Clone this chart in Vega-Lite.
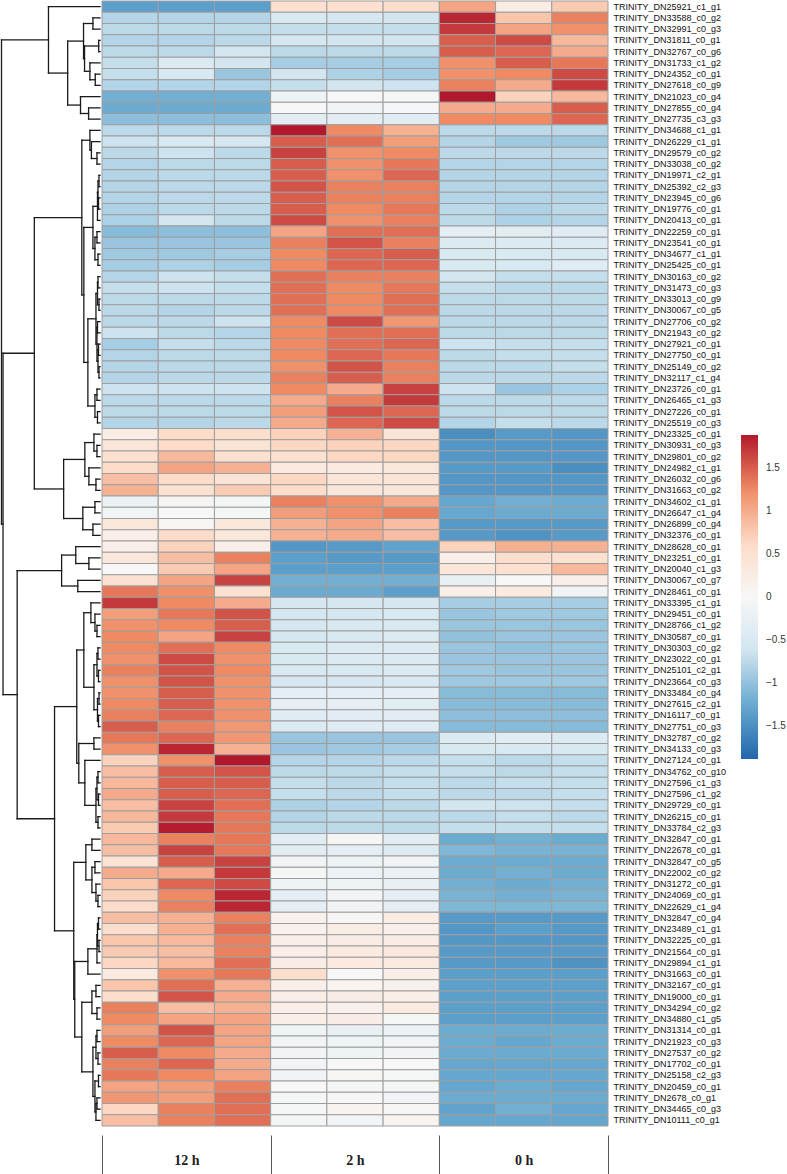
{
"$schema":"https://vega.github.io/schema/vega-lite/v6.json",
"padding":0,"background":"white","spacing":0,
"config":{"view":{"stroke":null}},
"datasets":{
"genes":[{"i":1,"g":"TRINITY_DN25921_c1_g1"},{"i":2,"g":"TRINITY_DN33588_c0_g2"},{"i":3,"g":"TRINITY_DN32991_c0_g3"},{"i":4,"g":"TRINITY_DN31811_c0_g1"},{"i":5,"g":"TRINITY_DN32767_c0_g6"},{"i":6,"g":"TRINITY_DN31733_c1_g2"},{"i":7,"g":"TRINITY_DN24352_c0_g1"},{"i":8,"g":"TRINITY_DN27618_c0_g9"},{"i":9,"g":"TRINITY_DN21023_c0_g4"},{"i":10,"g":"TRINITY_DN27855_c0_g4"},{"i":11,"g":"TRINITY_DN27735_c3_g3"},{"i":12,"g":"TRINITY_DN34688_c1_g1"},{"i":13,"g":"TRINITY_DN26229_c1_g1"},{"i":14,"g":"TRINITY_DN29579_c0_g2"},{"i":15,"g":"TRINITY_DN33038_c0_g2"},{"i":16,"g":"TRINITY_DN19971_c2_g1"},{"i":17,"g":"TRINITY_DN25392_c2_g3"},{"i":18,"g":"TRINITY_DN23945_c0_g6"},{"i":19,"g":"TRINITY_DN19776_c0_g1"},{"i":20,"g":"TRINITY_DN20413_c0_g1"},{"i":21,"g":"TRINITY_DN22259_c0_g1"},{"i":22,"g":"TRINITY_DN23541_c0_g1"},{"i":23,"g":"TRINITY_DN34677_c1_g1"},{"i":24,"g":"TRINITY_DN25425_c0_g1"},{"i":25,"g":"TRINITY_DN30163_c0_g2"},{"i":26,"g":"TRINITY_DN31473_c0_g3"},{"i":27,"g":"TRINITY_DN33013_c0_g9"},{"i":28,"g":"TRINITY_DN30067_c0_g5"},{"i":29,"g":"TRINITY_DN27706_c0_g2"},{"i":30,"g":"TRINITY_DN21943_c0_g2"},{"i":31,"g":"TRINITY_DN27921_c0_g1"},{"i":32,"g":"TRINITY_DN27750_c0_g1"},{"i":33,"g":"TRINITY_DN25149_c0_g2"},{"i":34,"g":"TRINITY_DN32117_c1_g4"},{"i":35,"g":"TRINITY_DN23726_c0_g1"},{"i":36,"g":"TRINITY_DN26465_c1_g3"},{"i":37,"g":"TRINITY_DN27226_c0_g1"},{"i":38,"g":"TRINITY_DN25519_c0_g3"},{"i":39,"g":"TRINITY_DN23325_c0_g1"},{"i":40,"g":"TRINITY_DN30931_c0_g3"},{"i":41,"g":"TRINITY_DN29801_c0_g2"},{"i":42,"g":"TRINITY_DN24982_c1_g1"},{"i":43,"g":"TRINITY_DN26032_c0_g6"},{"i":44,"g":"TRINITY_DN31663_c0_g2"},{"i":45,"g":"TRINITY_DN34602_c1_g1"},{"i":46,"g":"TRINITY_DN26647_c1_g4"},{"i":47,"g":"TRINITY_DN26899_c0_g4"},{"i":48,"g":"TRINITY_DN32376_c0_g1"},{"i":49,"g":"TRINITY_DN28628_c0_g1"},{"i":50,"g":"TRINITY_DN23251_c0_g1"},{"i":51,"g":"TRINITY_DN20040_c1_g3"},{"i":52,"g":"TRINITY_DN30067_c0_g7"},{"i":53,"g":"TRINITY_DN28461_c0_g1"},{"i":54,"g":"TRINITY_DN33395_c1_g1"},{"i":55,"g":"TRINITY_DN29451_c0_g1"},{"i":56,"g":"TRINITY_DN28766_c1_g2"},{"i":57,"g":"TRINITY_DN30587_c0_g1"},{"i":58,"g":"TRINITY_DN30303_c0_g2"},{"i":59,"g":"TRINITY_DN23022_c0_g1"},{"i":60,"g":"TRINITY_DN25101_c2_g1"},{"i":61,"g":"TRINITY_DN23664_c0_g3"},{"i":62,"g":"TRINITY_DN33484_c0_g4"},{"i":63,"g":"TRINITY_DN27615_c2_g1"},{"i":64,"g":"TRINITY_DN16117_c0_g1"},{"i":65,"g":"TRINITY_DN27751_c0_g3"},{"i":66,"g":"TRINITY_DN32787_c0_g2"},{"i":67,"g":"TRINITY_DN34133_c0_g3"},{"i":68,"g":"TRINITY_DN27124_c0_g1"},{"i":69,"g":"TRINITY_DN34762_c0_g10"},{"i":70,"g":"TRINITY_DN27596_c1_g3"},{"i":71,"g":"TRINITY_DN27596_c1_g2"},{"i":72,"g":"TRINITY_DN29729_c0_g1"},{"i":73,"g":"TRINITY_DN26215_c0_g1"},{"i":74,"g":"TRINITY_DN33784_c2_g3"},{"i":75,"g":"TRINITY_DN32847_c0_g1"},{"i":76,"g":"TRINITY_DN22678_c0_g1"},{"i":77,"g":"TRINITY_DN32847_c0_g5"},{"i":78,"g":"TRINITY_DN22002_c0_g2"},{"i":79,"g":"TRINITY_DN31272_c0_g1"},{"i":80,"g":"TRINITY_DN24069_c0_g1"},{"i":81,"g":"TRINITY_DN22629_c1_g4"},{"i":82,"g":"TRINITY_DN32847_c0_g4"},{"i":83,"g":"TRINITY_DN23489_c1_g1"},{"i":84,"g":"TRINITY_DN32225_c0_g1"},{"i":85,"g":"TRINITY_DN21564_c0_g1"},{"i":86,"g":"TRINITY_DN29894_c1_g1"},{"i":87,"g":"TRINITY_DN31663_c0_g1"},{"i":88,"g":"TRINITY_DN32167_c0_g1"},{"i":89,"g":"TRINITY_DN19000_c0_g1"},{"i":90,"g":"TRINITY_DN34294_c0_g2"},{"i":91,"g":"TRINITY_DN34880_c1_g5"},{"i":92,"g":"TRINITY_DN31314_c0_g1"},{"i":93,"g":"TRINITY_DN21923_c0_g3"},{"i":94,"g":"TRINITY_DN27537_c0_g2"},{"i":95,"g":"TRINITY_DN17702_c0_g1"},{"i":96,"g":"TRINITY_DN25158_c2_g3"},{"i":97,"g":"TRINITY_DN20459_c0_g1"},{"i":98,"g":"TRINITY_DN2678_c0_g1"},{"i":99,"g":"TRINITY_DN34465_c0_g3"},{"i":100,"g":"TRINITY_DN10111_c0_g1"}],
"cols":[{"c":1,"t":"12 h","r":1},{"c":2,"t":"12 h","r":2},{"c":3,"t":"12 h","r":3},{"c":4,"t":"2 h","r":1},{"c":5,"t":"2 h","r":2},{"c":6,"t":"2 h","r":3},{"c":7,"t":"0 h","r":1},{"c":8,"t":"0 h","r":2},{"c":9,"t":"0 h","r":3}],
"dendro":[
{"h":7,"ya":1.5,"ha":0,"yb":2.5,"hb":0},{"h":1.3,"ya":3.5,"ha":0,"yb":4.5,"hb":0},{"h":4.7,"ya":6.5,"ha":0,"yb":7.5,"hb":0},{"h":10,"ya":5.5,"ha":0,"yb":7.0,"hb":4.7},{"h":15.3,"ya":4.0,"ha":1.3,"yb":6.25,"hb":10},{"h":16.3,"ya":2.0,"ha":7,"yb":5.125,"hb":15.3},{"h":11.3,"ya":9.5,"ha":0,"yb":10.5,"hb":0},{"h":19.3,"ya":8.5,"ha":0,"yb":10.0,"hb":11.3},{"h":32,"ya":3.5625,"ha":16.3,"yb":9.25,"hb":19.3},{"h":51,"ya":0.5,"ha":0,"yb":6.40625,"hb":32},
{"h":3,"ya":13.5,"ha":0,"yb":14.5,"hb":0},{"h":8.5,"ya":12.5,"ha":0,"yb":14.0,"hb":3},{"h":10,"ya":11.5,"ha":0,"yb":13.25,"hb":8.5},
{"h":1,"ya":15.5,"ha":0,"yb":16.5,"hb":0},{"h":1.5,"ya":17.5,"ha":0,"yb":18.5,"hb":0},{"h":2,"ya":16.0,"ha":1,"yb":18.0,"hb":1.5},{"h":2.5,"ya":17.0,"ha":2,"yb":19.5,"hb":0},
{"h":3,"ya":20.5,"ha":0,"yb":21.5,"hb":0},{"h":2,"ya":22.5,"ha":0,"yb":23.5,"hb":0},{"h":5,"ya":21.0,"ha":3,"yb":23.0,"hb":2},{"h":7,"ya":18.25,"ha":2.5,"yb":22.0,"hb":5},
{"h":2,"ya":24.5,"ha":0,"yb":25.5,"hb":0},{"h":1,"ya":26.5,"ha":0,"yb":27.5,"hb":0},{"h":2.5,"ya":25.0,"ha":2,"yb":27.0,"hb":1},{"h":2.5,"ya":28.5,"ha":0,"yb":29.5,"hb":0},{"h":1.5,"ya":30.5,"ha":0,"yb":31.5,"hb":0},{"h":1,"ya":32.5,"ha":0,"yb":33.5,"hb":0},{"h":2,"ya":31.0,"ha":1.5,"yb":33.0,"hb":1},{"h":3,"ya":29.0,"ha":2.5,"yb":32.0,"hb":2},{"h":4,"ya":26.0,"ha":2.5,"yb":30.5,"hb":3},
{"h":3,"ya":34.5,"ha":0,"yb":35.5,"hb":0},{"h":2.5,"ya":36.5,"ha":0,"yb":37.5,"hb":0},{"h":5,"ya":35.0,"ha":3,"yb":37.0,"hb":2.5},{"h":12,"ya":28.25,"ha":4,"yb":36.0,"hb":5},{"h":16,"ya":20.125,"ha":7,"yb":32.125,"hb":12},{"h":18,"ya":12.375,"ha":10,"yb":26.125,"hb":16},
{"h":3,"ya":39.5,"ha":0,"yb":40.5,"hb":0},{"h":6,"ya":38.5,"ha":0,"yb":40.0,"hb":3},{"h":4,"ya":42.5,"ha":0,"yb":43.5,"hb":0},{"h":11,"ya":41.5,"ha":0,"yb":43.0,"hb":4},{"h":15,"ya":39.25,"ha":6,"yb":42.25,"hb":11},{"h":5,"ya":44.5,"ha":0,"yb":45.5,"hb":0},{"h":7,"ya":46.5,"ha":0,"yb":47.5,"hb":0},{"h":17,"ya":45.0,"ha":5,"yb":47.0,"hb":7},{"h":36,"ya":40.75,"ha":15,"yb":46.0,"hb":17},
{"h":65,"ya":19.25,"ha":18,"yb":43.375,"hb":36},
{"h":11,"ya":49.5,"ha":0,"yb":50.5,"hb":0},{"h":24,"ya":48.5,"ha":0,"yb":50.0,"hb":11},{"h":22,"ya":51.5,"ha":0,"yb":52.5,"hb":0},{"h":38,"ya":49.25,"ha":24,"yb":52.0,"hb":22},
{"h":3,"ya":55.5,"ha":0,"yb":56.5,"hb":0},{"h":5,"ya":54.5,"ha":0,"yb":56.0,"hb":3},{"h":9,"ya":53.5,"ha":0,"yb":55.25,"hb":5},
{"h":2,"ya":57.5,"ha":0,"yb":58.5,"hb":0},{"h":1.5,"ya":59.5,"ha":0,"yb":60.5,"hb":0},{"h":3,"ya":58.0,"ha":2,"yb":60.0,"hb":1.5},{"h":1,"ya":61.5,"ha":0,"yb":62.5,"hb":0},{"h":1.5,"ya":63.5,"ha":0,"yb":64.5,"hb":0},{"h":2.5,"ya":62.0,"ha":1,"yb":64.0,"hb":1.5},{"h":6,"ya":59.0,"ha":3,"yb":63.0,"hb":2.5},{"h":16,"ya":54.375,"ha":9,"yb":61.0,"hb":6},
{"h":6,"ya":65.5,"ha":0,"yb":66.5,"hb":0},{"h":2,"ya":68.5,"ha":0,"yb":69.5,"hb":0},{"h":1.5,"ya":70.5,"ha":0,"yb":71.5,"hb":0},{"h":3,"ya":69.0,"ha":2,"yb":71.0,"hb":1.5},{"h":2,"ya":72.5,"ha":0,"yb":73.5,"hb":0},{"h":4,"ya":70.0,"ha":3,"yb":73.0,"hb":2},{"h":15,"ya":67.5,"ha":0,"yb":71.5,"hb":4},{"h":21,"ya":66.0,"ha":6,"yb":69.5,"hb":15},{"h":23,"ya":57.6875,"ha":16,"yb":67.75,"hb":21},
{"h":8,"ya":74.5,"ha":0,"yb":75.5,"hb":0},{"h":2,"ya":79.5,"ha":0,"yb":80.5,"hb":0},{"h":4,"ya":78.5,"ha":0,"yb":80.0,"hb":2},{"h":5,"ya":76.5,"ha":0,"yb":77.5,"hb":0},{"h":8,"ya":77.0,"ha":5,"yb":79.25,"hb":4},{"h":14,"ya":75.0,"ha":8,"yb":78.125,"hb":8},
{"h":1.5,"ya":81.5,"ha":0,"yb":82.5,"hb":0},{"h":1,"ya":83.5,"ha":0,"yb":84.5,"hb":0},{"h":2.5,"ya":82.0,"ha":1.5,"yb":84.0,"hb":1},{"h":3,"ya":83.0,"ha":2.5,"yb":85.5,"hb":0},{"h":12,"ya":84.25,"ha":3,"yb":86.5,"hb":0},
{"h":4,"ya":87.5,"ha":0,"yb":88.5,"hb":0},{"h":3,"ya":89.5,"ha":0,"yb":90.5,"hb":0},{"h":8,"ya":88.0,"ha":4,"yb":90.0,"hb":3},
{"h":3,"ya":91.5,"ha":0,"yb":92.5,"hb":0},{"h":2,"ya":93.5,"ha":0,"yb":94.5,"hb":0},{"h":4,"ya":92.0,"ha":3,"yb":94.0,"hb":2},{"h":1.5,"ya":95.5,"ha":0,"yb":96.5,"hb":0},{"h":3,"ya":97.5,"ha":0,"yb":98.5,"hb":0},{"h":4,"ya":98.0,"ha":3,"yb":99.5,"hb":0},{"h":5,"ya":96.0,"ha":1.5,"yb":98.75,"hb":4},{"h":7,"ya":93.0,"ha":4,"yb":97.375,"hb":5},
{"h":18,"ya":89.0,"ha":8,"yb":95.1875,"hb":7},{"h":25,"ya":85.375,"ha":12,"yb":92.09,"hb":18},{"h":26,"ya":76.5625,"ha":14,"yb":88.73,"hb":25},
{"h":45,"ya":62.72,"ha":23,"yb":82.65,"hb":26},{"h":82,"ya":50.625,"ha":38,"yb":72.69,"hb":45},{"h":96,"ya":31.3125,"ha":65,"yb":61.66,"hb":82},{"h":97.5,"ya":3.453,"ha":51,"yb":46.49,"hb":96}
],
"cells":[
{"i":1,"c":1,"v":-1.35},{"i":1,"c":2,"v":-1.35},{"i":1,"c":3,"v":-1.35},{"i":1,"c":4,"v":0.5},{"i":1,"c":5,"v":0.5},{"i":1,"c":6,"v":0.55},{"i":1,"c":7,"v":1.05},{"i":1,"c":8,"v":0.25},{"i":1,"c":9,"v":0.75},
{"i":2,"c":1,"v":-0.8},{"i":2,"c":2,"v":-0.8},{"i":2,"c":3,"v":-0.8},{"i":2,"c":4,"v":-0.5},{"i":2,"c":5,"v":-0.55},{"i":2,"c":6,"v":-0.6},{"i":2,"c":7,"v":1.8},{"i":2,"c":8,"v":0.8},{"i":2,"c":9,"v":1.3},
{"i":3,"c":1,"v":-0.75},{"i":3,"c":2,"v":-0.75},{"i":3,"c":3,"v":-0.75},{"i":3,"c":4,"v":-0.7},{"i":3,"c":5,"v":-0.7},{"i":3,"c":6,"v":-0.7},{"i":3,"c":7,"v":1.7},{"i":3,"c":8,"v":1.05},{"i":3,"c":9,"v":1.2},
{"i":4,"c":1,"v":-0.8},{"i":4,"c":2,"v":-0.8},{"i":4,"c":3,"v":-0.75},{"i":4,"c":4,"v":-0.55},{"i":4,"c":5,"v":-0.6},{"i":4,"c":6,"v":-0.6},{"i":4,"c":7,"v":1.5},{"i":4,"c":8,"v":1.6},{"i":4,"c":9,"v":0.9},
{"i":5,"c":1,"v":-0.75},{"i":5,"c":2,"v":-0.75},{"i":5,"c":3,"v":-0.6},{"i":5,"c":4,"v":-0.75},{"i":5,"c":5,"v":-0.75},{"i":5,"c":6,"v":-0.75},{"i":5,"c":7,"v":1.5},{"i":5,"c":8,"v":1.45},{"i":5,"c":9,"v":1.0},
{"i":6,"c":1,"v":-0.7},{"i":6,"c":2,"v":-0.45},{"i":6,"c":3,"v":-0.6},{"i":6,"c":4,"v":-0.88},{"i":6,"c":5,"v":-0.88},{"i":6,"c":6,"v":-0.88},{"i":6,"c":7,"v":1.2},{"i":6,"c":8,"v":1.5},{"i":6,"c":9,"v":1.35},
{"i":7,"c":1,"v":-0.7},{"i":7,"c":2,"v":-0.5},{"i":7,"c":3,"v":-0.96},{"i":7,"c":4,"v":-0.6},{"i":7,"c":5,"v":-0.84},{"i":7,"c":6,"v":-0.88},{"i":7,"c":7,"v":1.2},{"i":7,"c":8,"v":1.25},{"i":7,"c":9,"v":1.6},
{"i":8,"c":1,"v":-0.8},{"i":8,"c":2,"v":-0.8},{"i":8,"c":3,"v":-0.8},{"i":8,"c":4,"v":-0.7},{"i":8,"c":5,"v":-0.6},{"i":8,"c":6,"v":-0.65},{"i":8,"c":7,"v":1.3},{"i":8,"c":8,"v":1.0},{"i":8,"c":9,"v":1.7},
{"i":9,"c":1,"v":-1.19},{"i":9,"c":2,"v":-1.19},{"i":9,"c":3,"v":-1.19},{"i":9,"c":4,"v":-0.15},{"i":9,"c":5,"v":0.0},{"i":9,"c":6,"v":-0.05},{"i":9,"c":7,"v":1.88},{"i":9,"c":8,"v":0.7},{"i":9,"c":9,"v":0.9},
{"i":10,"c":1,"v":-1.23},{"i":10,"c":2,"v":-1.23},{"i":10,"c":3,"v":-1.23},{"i":10,"c":4,"v":0.0},{"i":10,"c":5,"v":-0.12},{"i":10,"c":6,"v":-0.03},{"i":10,"c":7,"v":1.0},{"i":10,"c":8,"v":1.0},{"i":10,"c":9,"v":1.5},
{"i":11,"c":1,"v":-1.03},{"i":11,"c":2,"v":-1.03},{"i":11,"c":3,"v":-1.03},{"i":11,"c":4,"v":-0.35},{"i":11,"c":5,"v":-0.35},{"i":11,"c":6,"v":-0.35},{"i":11,"c":7,"v":1.25},{"i":11,"c":8,"v":1.25},{"i":11,"c":9,"v":1.45},
{"i":12,"c":1,"v":-0.75},{"i":12,"c":2,"v":-0.75},{"i":12,"c":3,"v":-0.75},{"i":12,"c":4,"v":1.88},{"i":12,"c":5,"v":1.25},{"i":12,"c":6,"v":0.95},{"i":12,"c":7,"v":-0.75},{"i":12,"c":8,"v":-0.75},{"i":12,"c":9,"v":-0.75},
{"i":13,"c":1,"v":-0.65},{"i":13,"c":2,"v":-0.5},{"i":13,"c":3,"v":-0.55},{"i":13,"c":4,"v":1.5},{"i":13,"c":5,"v":1.4},{"i":13,"c":6,"v":1.1},{"i":13,"c":7,"v":-0.8},{"i":13,"c":8,"v":-0.92},{"i":13,"c":9,"v":-0.92},
{"i":14,"c":1,"v":-0.75},{"i":14,"c":2,"v":-0.65},{"i":14,"c":3,"v":-0.75},{"i":14,"c":4,"v":1.65},{"i":14,"c":5,"v":1.2},{"i":14,"c":6,"v":1.25},{"i":14,"c":7,"v":-0.75},{"i":14,"c":8,"v":-0.75},{"i":14,"c":9,"v":-0.75},
{"i":15,"c":1,"v":-0.8},{"i":15,"c":2,"v":-0.75},{"i":15,"c":3,"v":-0.75},{"i":15,"c":4,"v":1.5},{"i":15,"c":5,"v":1.2},{"i":15,"c":6,"v":1.35},{"i":15,"c":7,"v":-0.8},{"i":15,"c":8,"v":-0.8},{"i":15,"c":9,"v":-0.8},
{"i":16,"c":1,"v":-0.8},{"i":16,"c":2,"v":-0.75},{"i":16,"c":3,"v":-0.75},{"i":16,"c":4,"v":1.5},{"i":16,"c":5,"v":1.2},{"i":16,"c":6,"v":1.45},{"i":16,"c":7,"v":-0.8},{"i":16,"c":8,"v":-0.8},{"i":16,"c":9,"v":-0.8},
{"i":17,"c":1,"v":-0.8},{"i":17,"c":2,"v":-0.75},{"i":17,"c":3,"v":-0.75},{"i":17,"c":4,"v":1.55},{"i":17,"c":5,"v":1.3},{"i":17,"c":6,"v":1.3},{"i":17,"c":7,"v":-0.8},{"i":17,"c":8,"v":-0.8},{"i":17,"c":9,"v":-0.8},
{"i":18,"c":1,"v":-0.8},{"i":18,"c":2,"v":-0.75},{"i":18,"c":3,"v":-0.75},{"i":18,"c":4,"v":1.5},{"i":18,"c":5,"v":1.3},{"i":18,"c":6,"v":1.3},{"i":18,"c":7,"v":-0.8},{"i":18,"c":8,"v":-0.8},{"i":18,"c":9,"v":-0.8},
{"i":19,"c":1,"v":-0.84},{"i":19,"c":2,"v":-0.75},{"i":19,"c":3,"v":-0.75},{"i":19,"c":4,"v":1.5},{"i":19,"c":5,"v":1.25},{"i":19,"c":6,"v":1.35},{"i":19,"c":7,"v":-0.75},{"i":19,"c":8,"v":-0.84},{"i":19,"c":9,"v":-0.75},
{"i":20,"c":1,"v":-0.84},{"i":20,"c":2,"v":-0.6},{"i":20,"c":3,"v":-0.75},{"i":20,"c":4,"v":1.6},{"i":20,"c":5,"v":1.2},{"i":20,"c":6,"v":1.3},{"i":20,"c":7,"v":-0.75},{"i":20,"c":8,"v":-0.84},{"i":20,"c":9,"v":-0.8},
{"i":21,"c":1,"v":-1.07},{"i":21,"c":2,"v":-1.03},{"i":21,"c":3,"v":-1.03},{"i":21,"c":4,"v":1.05},{"i":21,"c":5,"v":1.4},{"i":21,"c":6,"v":1.4},{"i":21,"c":7,"v":-0.3},{"i":21,"c":8,"v":-0.35},{"i":21,"c":9,"v":-0.4},
{"i":22,"c":1,"v":-0.96},{"i":22,"c":2,"v":-0.96},{"i":22,"c":3,"v":-0.96},{"i":22,"c":4,"v":1.3},{"i":22,"c":5,"v":1.55},{"i":22,"c":6,"v":1.3},{"i":22,"c":7,"v":-0.45},{"i":22,"c":8,"v":-0.45},{"i":22,"c":9,"v":-0.45},
{"i":23,"c":1,"v":-0.92},{"i":23,"c":2,"v":-0.92},{"i":23,"c":3,"v":-0.88},{"i":23,"c":4,"v":1.25},{"i":23,"c":5,"v":1.45},{"i":23,"c":6,"v":1.5},{"i":23,"c":7,"v":-0.5},{"i":23,"c":8,"v":-0.5},{"i":23,"c":9,"v":-0.5},
{"i":24,"c":1,"v":-0.88},{"i":24,"c":2,"v":-0.84},{"i":24,"c":3,"v":-0.88},{"i":24,"c":4,"v":1.25},{"i":24,"c":5,"v":1.45},{"i":24,"c":6,"v":1.45},{"i":24,"c":7,"v":-0.5},{"i":24,"c":8,"v":-0.5},{"i":24,"c":9,"v":-0.4},
{"i":25,"c":1,"v":-0.8},{"i":25,"c":2,"v":-0.65},{"i":25,"c":3,"v":-0.7},{"i":25,"c":4,"v":1.4},{"i":25,"c":5,"v":1.3},{"i":25,"c":6,"v":1.3},{"i":25,"c":7,"v":-0.6},{"i":25,"c":8,"v":-0.7},{"i":25,"c":9,"v":-0.7},
{"i":26,"c":1,"v":-0.7},{"i":26,"c":2,"v":-0.65},{"i":26,"c":3,"v":-0.7},{"i":26,"c":4,"v":1.4},{"i":26,"c":5,"v":1.25},{"i":26,"c":6,"v":1.35},{"i":26,"c":7,"v":-0.7},{"i":26,"c":8,"v":-0.75},{"i":26,"c":9,"v":-0.75},
{"i":27,"c":1,"v":-0.75},{"i":27,"c":2,"v":-0.75},{"i":27,"c":3,"v":-0.75},{"i":27,"c":4,"v":1.4},{"i":27,"c":5,"v":1.25},{"i":27,"c":6,"v":1.4},{"i":27,"c":7,"v":-0.75},{"i":27,"c":8,"v":-0.75},{"i":27,"c":9,"v":-0.75},
{"i":28,"c":1,"v":-0.75},{"i":28,"c":2,"v":-0.8},{"i":28,"c":3,"v":-0.75},{"i":28,"c":4,"v":1.4},{"i":28,"c":5,"v":1.25},{"i":28,"c":6,"v":1.4},{"i":28,"c":7,"v":-0.75},{"i":28,"c":8,"v":-0.75},{"i":28,"c":9,"v":-0.75},
{"i":29,"c":1,"v":-0.75},{"i":29,"c":2,"v":-0.75},{"i":29,"c":3,"v":-0.65},{"i":29,"c":4,"v":1.25},{"i":29,"c":5,"v":1.6},{"i":29,"c":6,"v":1.15},{"i":29,"c":7,"v":-0.75},{"i":29,"c":8,"v":-0.75},{"i":29,"c":9,"v":-0.75},
{"i":30,"c":1,"v":-0.65},{"i":30,"c":2,"v":-0.75},{"i":30,"c":3,"v":-0.8},{"i":30,"c":4,"v":1.25},{"i":30,"c":5,"v":1.4},{"i":30,"c":6,"v":1.4},{"i":30,"c":7,"v":-0.75},{"i":30,"c":8,"v":-0.75},{"i":30,"c":9,"v":-0.75},
{"i":31,"c":1,"v":-0.88},{"i":31,"c":2,"v":-0.7},{"i":31,"c":3,"v":-0.75},{"i":31,"c":4,"v":1.25},{"i":31,"c":5,"v":1.4},{"i":31,"c":6,"v":1.45},{"i":31,"c":7,"v":-0.65},{"i":31,"c":8,"v":-0.7},{"i":31,"c":9,"v":-0.7},
{"i":32,"c":1,"v":-0.8},{"i":32,"c":2,"v":-0.75},{"i":32,"c":3,"v":-0.75},{"i":32,"c":4,"v":1.25},{"i":32,"c":5,"v":1.45},{"i":32,"c":6,"v":1.35},{"i":32,"c":7,"v":-0.75},{"i":32,"c":8,"v":-0.7},{"i":32,"c":9,"v":-0.7},
{"i":33,"c":1,"v":-0.8},{"i":33,"c":2,"v":-0.75},{"i":33,"c":3,"v":-0.75},{"i":33,"c":4,"v":1.2},{"i":33,"c":5,"v":1.55},{"i":33,"c":6,"v":1.3},{"i":33,"c":7,"v":-0.75},{"i":33,"c":8,"v":-0.75},{"i":33,"c":9,"v":-0.7},
{"i":34,"c":1,"v":-0.8},{"i":34,"c":2,"v":-0.75},{"i":34,"c":3,"v":-0.75},{"i":34,"c":4,"v":1.3},{"i":34,"c":5,"v":1.5},{"i":34,"c":6,"v":1.3},{"i":34,"c":7,"v":-0.75},{"i":34,"c":8,"v":-0.75},{"i":34,"c":9,"v":-0.75},
{"i":35,"c":1,"v":-0.65},{"i":35,"c":2,"v":-0.65},{"i":35,"c":3,"v":-0.65},{"i":35,"c":4,"v":1.25},{"i":35,"c":5,"v":1.0},{"i":35,"c":6,"v":1.65},{"i":35,"c":7,"v":-0.65},{"i":35,"c":8,"v":-0.96},{"i":35,"c":9,"v":-0.84},
{"i":36,"c":1,"v":-0.75},{"i":36,"c":2,"v":-0.75},{"i":36,"c":3,"v":-0.75},{"i":36,"c":4,"v":1.0},{"i":36,"c":5,"v":1.3},{"i":36,"c":6,"v":1.7},{"i":36,"c":7,"v":-0.75},{"i":36,"c":8,"v":-0.75},{"i":36,"c":9,"v":-0.75},
{"i":37,"c":1,"v":-0.75},{"i":37,"c":2,"v":-0.75},{"i":37,"c":3,"v":-0.75},{"i":37,"c":4,"v":1.1},{"i":37,"c":5,"v":1.55},{"i":37,"c":6,"v":1.45},{"i":37,"c":7,"v":-0.75},{"i":37,"c":8,"v":-0.75},{"i":37,"c":9,"v":-0.75},
{"i":38,"c":1,"v":-0.8},{"i":38,"c":2,"v":-0.8},{"i":38,"c":3,"v":-0.75},{"i":38,"c":4,"v":1.0},{"i":38,"c":5,"v":1.45},{"i":38,"c":6,"v":1.6},{"i":38,"c":7,"v":-0.8},{"i":38,"c":8,"v":-0.7},{"i":38,"c":9,"v":-0.75},
{"i":39,"c":1,"v":0.25},{"i":39,"c":2,"v":0.6},{"i":39,"c":3,"v":0.55},{"i":39,"c":4,"v":0.7},{"i":39,"c":5,"v":0.95},{"i":39,"c":6,"v":0.45},{"i":39,"c":7,"v":-1.5},{"i":39,"c":8,"v":-1.39},{"i":39,"c":9,"v":-1.42},
{"i":40,"c":1,"v":0.4},{"i":40,"c":2,"v":0.6},{"i":40,"c":3,"v":0.45},{"i":40,"c":4,"v":0.65},{"i":40,"c":5,"v":0.7},{"i":40,"c":6,"v":0.65},{"i":40,"c":7,"v":-1.42},{"i":40,"c":8,"v":-1.42},{"i":40,"c":9,"v":-1.42},
{"i":41,"c":1,"v":0.5},{"i":41,"c":2,"v":0.9},{"i":41,"c":3,"v":0.5},{"i":41,"c":4,"v":0.5},{"i":41,"c":5,"v":0.65},{"i":41,"c":6,"v":0.65},{"i":41,"c":7,"v":-1.42},{"i":41,"c":8,"v":-1.42},{"i":41,"c":9,"v":-1.42},
{"i":42,"c":1,"v":0.6},{"i":42,"c":2,"v":1.05},{"i":42,"c":3,"v":0.95},{"i":42,"c":4,"v":0.3},{"i":42,"c":5,"v":0.3},{"i":42,"c":6,"v":0.35},{"i":42,"c":7,"v":-1.39},{"i":42,"c":8,"v":-1.39},{"i":42,"c":9,"v":-1.5},
{"i":43,"c":1,"v":0.85},{"i":43,"c":2,"v":0.6},{"i":43,"c":3,"v":0.45},{"i":43,"c":4,"v":0.65},{"i":43,"c":5,"v":0.4},{"i":43,"c":6,"v":0.45},{"i":43,"c":7,"v":-1.42},{"i":43,"c":8,"v":-1.42},{"i":43,"c":9,"v":-1.42},
{"i":44,"c":1,"v":0.95},{"i":44,"c":2,"v":0.5},{"i":44,"c":3,"v":0.75},{"i":44,"c":4,"v":0.6},{"i":44,"c":5,"v":0.35},{"i":44,"c":6,"v":0.35},{"i":44,"c":7,"v":-1.42},{"i":44,"c":8,"v":-1.42},{"i":44,"c":9,"v":-1.42},
{"i":45,"c":1,"v":-0.2},{"i":45,"c":2,"v":0.05},{"i":45,"c":3,"v":-0.05},{"i":45,"c":4,"v":1.3},{"i":45,"c":5,"v":1.2},{"i":45,"c":6,"v":1.0},{"i":45,"c":7,"v":-1.27},{"i":45,"c":8,"v":-1.19},{"i":45,"c":9,"v":-1.23},
{"i":46,"c":1,"v":-0.1},{"i":46,"c":2,"v":0.0},{"i":46,"c":3,"v":-0.05},{"i":46,"c":4,"v":1.1},{"i":46,"c":5,"v":1.2},{"i":46,"c":6,"v":1.3},{"i":46,"c":7,"v":-1.27},{"i":46,"c":8,"v":-1.23},{"i":46,"c":9,"v":-1.23},
{"i":47,"c":1,"v":0.35},{"i":47,"c":2,"v":0.05},{"i":47,"c":3,"v":0.35},{"i":47,"c":4,"v":0.95},{"i":47,"c":5,"v":1.05},{"i":47,"c":6,"v":0.85},{"i":47,"c":7,"v":-1.39},{"i":47,"c":8,"v":-1.39},{"i":47,"c":9,"v":-1.39},
{"i":48,"c":1,"v":0.2},{"i":48,"c":2,"v":0.6},{"i":48,"c":3,"v":0.35},{"i":48,"c":4,"v":0.95},{"i":48,"c":5,"v":1.0},{"i":48,"c":6,"v":0.85},{"i":48,"c":7,"v":-1.39},{"i":48,"c":8,"v":-1.46},{"i":48,"c":9,"v":-1.39},
{"i":49,"c":1,"v":0.2},{"i":49,"c":2,"v":0.7},{"i":49,"c":3,"v":0.2},{"i":49,"c":4,"v":-1.42},{"i":49,"c":5,"v":-1.39},{"i":49,"c":6,"v":-1.31},{"i":49,"c":7,"v":0.7},{"i":49,"c":8,"v":0.95},{"i":49,"c":9,"v":0.95},
{"i":50,"c":1,"v":0.35},{"i":50,"c":2,"v":0.85},{"i":50,"c":3,"v":1.3},{"i":50,"c":4,"v":-1.35},{"i":50,"c":5,"v":-1.39},{"i":50,"c":6,"v":-1.39},{"i":50,"c":7,"v":0.2},{"i":50,"c":8,"v":0.55},{"i":50,"c":9,"v":0.5},
{"i":51,"c":1,"v":0.0},{"i":51,"c":2,"v":0.75},{"i":51,"c":3,"v":1.05},{"i":51,"c":4,"v":-1.35},{"i":51,"c":5,"v":-1.35},{"i":51,"c":6,"v":-1.35},{"i":51,"c":7,"v":0.4},{"i":51,"c":8,"v":0.5},{"i":51,"c":9,"v":0.9},
{"i":52,"c":1,"v":0.5},{"i":52,"c":2,"v":1.05},{"i":52,"c":3,"v":1.65},{"i":52,"c":4,"v":-1.19},{"i":52,"c":5,"v":-1.19},{"i":52,"c":6,"v":-1.19},{"i":52,"c":7,"v":-0.25},{"i":52,"c":8,"v":0.0},{"i":52,"c":9,"v":0.2},
{"i":53,"c":1,"v":1.35},{"i":53,"c":2,"v":1.2},{"i":53,"c":3,"v":0.5},{"i":53,"c":4,"v":-1.23},{"i":53,"c":5,"v":-1.23},{"i":53,"c":6,"v":-1.35},{"i":53,"c":7,"v":0.2},{"i":53,"c":8,"v":0.3},{"i":53,"c":9,"v":-0.1},
{"i":54,"c":1,"v":1.7},{"i":54,"c":2,"v":1.25},{"i":54,"c":3,"v":1.0},{"i":54,"c":4,"v":-0.55},{"i":54,"c":5,"v":-0.55},{"i":54,"c":6,"v":-0.55},{"i":54,"c":7,"v":-0.88},{"i":54,"c":8,"v":-0.88},{"i":54,"c":9,"v":-0.88},
{"i":55,"c":1,"v":1.1},{"i":55,"c":2,"v":1.35},{"i":55,"c":3,"v":1.55},{"i":55,"c":4,"v":-0.55},{"i":55,"c":5,"v":-0.55},{"i":55,"c":6,"v":-0.5},{"i":55,"c":7,"v":-0.96},{"i":55,"c":8,"v":-0.92},{"i":55,"c":9,"v":-0.92},
{"i":56,"c":1,"v":1.2},{"i":56,"c":2,"v":1.25},{"i":56,"c":3,"v":1.5},{"i":56,"c":4,"v":-0.55},{"i":56,"c":5,"v":-0.5},{"i":56,"c":6,"v":-0.5},{"i":56,"c":7,"v":-0.96},{"i":56,"c":8,"v":-0.96},{"i":56,"c":9,"v":-0.96},
{"i":57,"c":1,"v":1.25},{"i":57,"c":2,"v":1.05},{"i":57,"c":3,"v":1.65},{"i":57,"c":4,"v":-0.55},{"i":57,"c":5,"v":-0.5},{"i":57,"c":6,"v":-0.45},{"i":57,"c":7,"v":-1.0},{"i":57,"c":8,"v":-0.96},{"i":57,"c":9,"v":-0.96},
{"i":58,"c":1,"v":1.25},{"i":58,"c":2,"v":1.4},{"i":58,"c":3,"v":1.25},{"i":58,"c":4,"v":-0.5},{"i":58,"c":5,"v":-0.45},{"i":58,"c":6,"v":-0.45},{"i":58,"c":7,"v":-0.96},{"i":58,"c":8,"v":-1.0},{"i":58,"c":9,"v":-0.96},
{"i":59,"c":1,"v":1.2},{"i":59,"c":2,"v":1.6},{"i":59,"c":3,"v":1.2},{"i":59,"c":4,"v":-0.5},{"i":59,"c":5,"v":-0.45},{"i":59,"c":6,"v":-0.45},{"i":59,"c":7,"v":-0.96},{"i":59,"c":8,"v":-0.96},{"i":59,"c":9,"v":-0.96},
{"i":60,"c":1,"v":1.3},{"i":60,"c":2,"v":1.55},{"i":60,"c":3,"v":1.25},{"i":60,"c":4,"v":-0.5},{"i":60,"c":5,"v":-0.5},{"i":60,"c":6,"v":-0.45},{"i":60,"c":7,"v":-0.92},{"i":60,"c":8,"v":-0.96},{"i":60,"c":9,"v":-0.96},
{"i":61,"c":1,"v":1.2},{"i":61,"c":2,"v":1.55},{"i":61,"c":3,"v":1.2},{"i":61,"c":4,"v":-0.55},{"i":61,"c":5,"v":-0.55},{"i":61,"c":6,"v":-0.5},{"i":61,"c":7,"v":-0.92},{"i":61,"c":8,"v":-0.92},{"i":61,"c":9,"v":-0.92},
{"i":62,"c":1,"v":1.2},{"i":62,"c":2,"v":1.5},{"i":62,"c":3,"v":1.2},{"i":62,"c":4,"v":-0.3},{"i":62,"c":5,"v":-0.3},{"i":62,"c":6,"v":-0.3},{"i":62,"c":7,"v":-1.07},{"i":62,"c":8,"v":-1.07},{"i":62,"c":9,"v":-1.07},
{"i":63,"c":1,"v":1.25},{"i":63,"c":2,"v":1.5},{"i":63,"c":3,"v":1.2},{"i":63,"c":4,"v":-0.3},{"i":63,"c":5,"v":-0.3},{"i":63,"c":6,"v":-0.35},{"i":63,"c":7,"v":-1.07},{"i":63,"c":8,"v":-1.07},{"i":63,"c":9,"v":-1.07},
{"i":64,"c":1,"v":1.3},{"i":64,"c":2,"v":1.45},{"i":64,"c":3,"v":1.2},{"i":64,"c":4,"v":-0.4},{"i":64,"c":5,"v":-0.35},{"i":64,"c":6,"v":-0.35},{"i":64,"c":7,"v":-1.03},{"i":64,"c":8,"v":-1.03},{"i":64,"c":9,"v":-1.03},
{"i":65,"c":1,"v":1.5},{"i":65,"c":2,"v":1.3},{"i":65,"c":3,"v":1.15},{"i":65,"c":4,"v":-0.45},{"i":65,"c":5,"v":-0.4},{"i":65,"c":6,"v":-0.4},{"i":65,"c":7,"v":-1.07},{"i":65,"c":8,"v":-1.07},{"i":65,"c":9,"v":-1.07},
{"i":66,"c":1,"v":1.35},{"i":66,"c":2,"v":1.45},{"i":66,"c":3,"v":1.15},{"i":66,"c":4,"v":-0.96},{"i":66,"c":5,"v":-0.96},{"i":66,"c":6,"v":-0.96},{"i":66,"c":7,"v":-0.45},{"i":66,"c":8,"v":-0.35},{"i":66,"c":9,"v":-0.45},
{"i":67,"c":1,"v":1.2},{"i":67,"c":2,"v":1.8},{"i":67,"c":3,"v":0.95},{"i":67,"c":4,"v":-0.96},{"i":67,"c":5,"v":-0.92},{"i":67,"c":6,"v":-0.88},{"i":67,"c":7,"v":-0.5},{"i":67,"c":8,"v":-0.5},{"i":67,"c":9,"v":-0.5},
{"i":68,"c":1,"v":0.7},{"i":68,"c":2,"v":1.2},{"i":68,"c":3,"v":1.88},{"i":68,"c":4,"v":-0.8},{"i":68,"c":5,"v":-0.8},{"i":68,"c":6,"v":-0.75},{"i":68,"c":7,"v":-0.7},{"i":68,"c":8,"v":-0.75},{"i":68,"c":9,"v":-0.7},
{"i":69,"c":1,"v":0.85},{"i":69,"c":2,"v":1.5},{"i":69,"c":3,"v":1.55},{"i":69,"c":4,"v":-0.75},{"i":69,"c":5,"v":-0.75},{"i":69,"c":6,"v":-0.7},{"i":69,"c":7,"v":-0.7},{"i":69,"c":8,"v":-0.75},{"i":69,"c":9,"v":-0.7},
{"i":70,"c":1,"v":0.9},{"i":70,"c":2,"v":1.5},{"i":70,"c":3,"v":1.5},{"i":70,"c":4,"v":-0.7},{"i":70,"c":5,"v":-0.75},{"i":70,"c":6,"v":-0.7},{"i":70,"c":7,"v":-0.75},{"i":70,"c":8,"v":-0.7},{"i":70,"c":9,"v":-0.7},
{"i":71,"c":1,"v":1.0},{"i":71,"c":2,"v":1.5},{"i":71,"c":3,"v":1.45},{"i":71,"c":4,"v":-0.7},{"i":71,"c":5,"v":-0.75},{"i":71,"c":6,"v":-0.7},{"i":71,"c":7,"v":-0.75},{"i":71,"c":8,"v":-0.75},{"i":71,"c":9,"v":-0.7},
{"i":72,"c":1,"v":0.85},{"i":72,"c":2,"v":1.65},{"i":72,"c":3,"v":1.4},{"i":72,"c":4,"v":-0.84},{"i":72,"c":5,"v":-0.8},{"i":72,"c":6,"v":-0.75},{"i":72,"c":7,"v":-0.6},{"i":72,"c":8,"v":-0.65},{"i":72,"c":9,"v":-0.7},
{"i":73,"c":1,"v":0.9},{"i":73,"c":2,"v":1.7},{"i":73,"c":3,"v":1.35},{"i":73,"c":4,"v":-0.8},{"i":73,"c":5,"v":-0.75},{"i":73,"c":6,"v":-0.75},{"i":73,"c":7,"v":-0.75},{"i":73,"c":8,"v":-0.7},{"i":73,"c":9,"v":-0.75},
{"i":74,"c":1,"v":0.75},{"i":74,"c":2,"v":1.85},{"i":74,"c":3,"v":1.35},{"i":74,"c":4,"v":-0.75},{"i":74,"c":5,"v":-0.75},{"i":74,"c":6,"v":-0.75},{"i":74,"c":7,"v":-0.7},{"i":74,"c":8,"v":-0.7},{"i":74,"c":9,"v":-0.7},
{"i":75,"c":1,"v":0.9},{"i":75,"c":2,"v":1.3},{"i":75,"c":3,"v":1.35},{"i":75,"c":4,"v":-0.35},{"i":75,"c":5,"v":0.05},{"i":75,"c":6,"v":-0.35},{"i":75,"c":7,"v":-1.23},{"i":75,"c":8,"v":-1.19},{"i":75,"c":9,"v":-1.23},
{"i":76,"c":1,"v":0.85},{"i":76,"c":2,"v":1.65},{"i":76,"c":3,"v":1.35},{"i":76,"c":4,"v":-0.35},{"i":76,"c":5,"v":-0.3},{"i":76,"c":6,"v":-0.45},{"i":76,"c":7,"v":-1.11},{"i":76,"c":8,"v":-1.15},{"i":76,"c":9,"v":-1.15},
{"i":77,"c":1,"v":0.45},{"i":77,"c":2,"v":1.5},{"i":77,"c":3,"v":1.65},{"i":77,"c":4,"v":-0.1},{"i":77,"c":5,"v":-0.15},{"i":77,"c":6,"v":-0.1},{"i":77,"c":7,"v":-1.23},{"i":77,"c":8,"v":-1.23},{"i":77,"c":9,"v":-1.23},
{"i":78,"c":1,"v":1.0},{"i":78,"c":2,"v":1.0},{"i":78,"c":3,"v":1.7},{"i":78,"c":4,"v":-0.05},{"i":78,"c":5,"v":-0.2},{"i":78,"c":6,"v":-0.2},{"i":78,"c":7,"v":-1.23},{"i":78,"c":8,"v":-1.19},{"i":78,"c":9,"v":-1.23},
{"i":79,"c":1,"v":0.8},{"i":79,"c":2,"v":1.45},{"i":79,"c":3,"v":1.6},{"i":79,"c":4,"v":-0.15},{"i":79,"c":5,"v":-0.15},{"i":79,"c":6,"v":-0.25},{"i":79,"c":7,"v":-1.19},{"i":79,"c":8,"v":-1.23},{"i":79,"c":9,"v":-1.19},
{"i":80,"c":1,"v":0.7},{"i":80,"c":2,"v":1.25},{"i":80,"c":3,"v":1.8},{"i":80,"c":4,"v":-0.3},{"i":80,"c":5,"v":-0.1},{"i":80,"c":6,"v":-0.3},{"i":80,"c":7,"v":-1.15},{"i":80,"c":8,"v":-1.19},{"i":80,"c":9,"v":-1.15},
{"i":81,"c":1,"v":0.6},{"i":81,"c":2,"v":1.3},{"i":81,"c":3,"v":1.8},{"i":81,"c":4,"v":-0.3},{"i":81,"c":5,"v":-0.1},{"i":81,"c":6,"v":-0.3},{"i":81,"c":7,"v":-1.11},{"i":81,"c":8,"v":-1.11},{"i":81,"c":9,"v":-1.11},
{"i":82,"c":1,"v":0.85},{"i":82,"c":2,"v":0.95},{"i":82,"c":3,"v":1.3},{"i":82,"c":4,"v":0.15},{"i":82,"c":5,"v":0.05},{"i":82,"c":6,"v":0.25},{"i":82,"c":7,"v":-1.39},{"i":82,"c":8,"v":-1.39},{"i":82,"c":9,"v":-1.39},
{"i":83,"c":1,"v":0.55},{"i":83,"c":2,"v":0.95},{"i":83,"c":3,"v":1.4},{"i":83,"c":4,"v":0.15},{"i":83,"c":5,"v":0.25},{"i":83,"c":6,"v":0.2},{"i":83,"c":7,"v":-1.42},{"i":83,"c":8,"v":-1.35},{"i":83,"c":9,"v":-1.39},
{"i":84,"c":1,"v":0.8},{"i":84,"c":2,"v":0.9},{"i":84,"c":3,"v":1.3},{"i":84,"c":4,"v":0.2},{"i":84,"c":5,"v":0.25},{"i":84,"c":6,"v":0.25},{"i":84,"c":7,"v":-1.42},{"i":84,"c":8,"v":-1.42},{"i":84,"c":9,"v":-1.42},
{"i":85,"c":1,"v":0.75},{"i":85,"c":2,"v":0.85},{"i":85,"c":3,"v":1.3},{"i":85,"c":4,"v":0.2},{"i":85,"c":5,"v":0.3},{"i":85,"c":6,"v":0.35},{"i":85,"c":7,"v":-1.39},{"i":85,"c":8,"v":-1.39},{"i":85,"c":9,"v":-1.39},
{"i":86,"c":1,"v":0.65},{"i":86,"c":2,"v":0.9},{"i":86,"c":3,"v":1.4},{"i":86,"c":4,"v":0.25},{"i":86,"c":5,"v":0.3},{"i":86,"c":6,"v":0.3},{"i":86,"c":7,"v":-1.39},{"i":86,"c":8,"v":-1.39},{"i":86,"c":9,"v":-1.46},
{"i":87,"c":1,"v":0.3},{"i":87,"c":2,"v":1.2},{"i":87,"c":3,"v":1.35},{"i":87,"c":4,"v":0.55},{"i":87,"c":5,"v":0.0},{"i":87,"c":6,"v":0.2},{"i":87,"c":7,"v":-1.35},{"i":87,"c":8,"v":-1.35},{"i":87,"c":9,"v":-1.35},
{"i":88,"c":1,"v":0.8},{"i":88,"c":2,"v":1.4},{"i":88,"c":3,"v":0.95},{"i":88,"c":4,"v":0.2},{"i":88,"c":5,"v":0.1},{"i":88,"c":6,"v":0.15},{"i":88,"c":7,"v":-1.35},{"i":88,"c":8,"v":-1.35},{"i":88,"c":9,"v":-1.35},
{"i":89,"c":1,"v":0.55},{"i":89,"c":2,"v":1.55},{"i":89,"c":3,"v":1.0},{"i":89,"c":4,"v":0.2},{"i":89,"c":5,"v":0.25},{"i":89,"c":6,"v":0.2},{"i":89,"c":7,"v":-1.35},{"i":89,"c":8,"v":-1.35},{"i":89,"c":9,"v":-1.35},
{"i":90,"c":1,"v":1.3},{"i":90,"c":2,"v":0.85},{"i":90,"c":3,"v":0.95},{"i":90,"c":4,"v":0.2},{"i":90,"c":5,"v":0.15},{"i":90,"c":6,"v":0.3},{"i":90,"c":7,"v":-1.35},{"i":90,"c":8,"v":-1.35},{"i":90,"c":9,"v":-1.35},
{"i":91,"c":1,"v":1.25},{"i":91,"c":2,"v":1.05},{"i":91,"c":3,"v":1.05},{"i":91,"c":4,"v":0.2},{"i":91,"c":5,"v":0.25},{"i":91,"c":6,"v":-0.05},{"i":91,"c":7,"v":-1.35},{"i":91,"c":8,"v":-1.35},{"i":91,"c":9,"v":-1.35},
{"i":92,"c":1,"v":1.1},{"i":92,"c":2,"v":1.55},{"i":92,"c":3,"v":1.05},{"i":92,"c":4,"v":-0.15},{"i":92,"c":5,"v":-0.25},{"i":92,"c":6,"v":-0.2},{"i":92,"c":7,"v":-1.23},{"i":92,"c":8,"v":-1.23},{"i":92,"c":9,"v":-1.23},
{"i":93,"c":1,"v":1.25},{"i":93,"c":2,"v":1.45},{"i":93,"c":3,"v":1.05},{"i":93,"c":4,"v":-0.1},{"i":93,"c":5,"v":-0.15},{"i":93,"c":6,"v":-0.1},{"i":93,"c":7,"v":-1.23},{"i":93,"c":8,"v":-1.27},{"i":93,"c":9,"v":-1.23},
{"i":94,"c":1,"v":1.5},{"i":94,"c":2,"v":1.25},{"i":94,"c":3,"v":1.0},{"i":94,"c":4,"v":-0.1},{"i":94,"c":5,"v":-0.15},{"i":94,"c":6,"v":-0.1},{"i":94,"c":7,"v":-1.23},{"i":94,"c":8,"v":-1.23},{"i":94,"c":9,"v":-1.23},
{"i":95,"c":1,"v":1.3},{"i":95,"c":2,"v":1.45},{"i":95,"c":3,"v":1.0},{"i":95,"c":4,"v":-0.1},{"i":95,"c":5,"v":0.0},{"i":95,"c":6,"v":0.0},{"i":95,"c":7,"v":-1.27},{"i":95,"c":8,"v":-1.27},{"i":95,"c":9,"v":-1.27},
{"i":96,"c":1,"v":1.35},{"i":96,"c":2,"v":1.25},{"i":96,"c":3,"v":1.05},{"i":96,"c":4,"v":-0.1},{"i":96,"c":5,"v":0.05},{"i":96,"c":6,"v":-0.05},{"i":96,"c":7,"v":-1.27},{"i":96,"c":8,"v":-1.27},{"i":96,"c":9,"v":-1.27},
{"i":97,"c":1,"v":1.05},{"i":97,"c":2,"v":1.1},{"i":97,"c":3,"v":1.3},{"i":97,"c":4,"v":0.0},{"i":97,"c":5,"v":-0.05},{"i":97,"c":6,"v":-0.05},{"i":97,"c":7,"v":-1.27},{"i":97,"c":8,"v":-1.23},{"i":97,"c":9,"v":-1.27},
{"i":98,"c":1,"v":1.15},{"i":98,"c":2,"v":1.1},{"i":98,"c":3,"v":1.4},{"i":98,"c":4,"v":-0.05},{"i":98,"c":5,"v":-0.02},{"i":98,"c":6,"v":-0.1},{"i":98,"c":7,"v":-1.23},{"i":98,"c":8,"v":-1.23},{"i":98,"c":9,"v":-1.23},
{"i":99,"c":1,"v":0.65},{"i":99,"c":2,"v":1.3},{"i":99,"c":3,"v":1.4},{"i":99,"c":4,"v":-0.05},{"i":99,"c":5,"v":0.1},{"i":99,"c":6,"v":0.05},{"i":99,"c":7,"v":-1.31},{"i":99,"c":8,"v":-1.19},{"i":99,"c":9,"v":-1.27},
{"i":100,"c":1,"v":0.85},{"i":100,"c":2,"v":1.3},{"i":100,"c":3,"v":1.4},{"i":100,"c":4,"v":-0.05},{"i":100,"c":5,"v":-0.1},{"i":100,"c":6,"v":0.1},{"i":100,"c":7,"v":-1.27},{"i":100,"c":8,"v":-1.27},{"i":100,"c":9,"v":-1.27}
]},
"hconcat":[
{"width":99,"height":1125,"data":{"name":"dendro"},
"layer":[
{"mark":{"type":"rule","color":"#1a1a1a","strokeWidth":1.3,"strokeCap":"square"},
"encoding":{"x":{"field":"h","type":"quantitative","scale":{"domain":[98,0],"nice":false,"zero":false},"axis":null},
"y":{"field":"ya","type":"quantitative","scale":{"domain":[0,100],"reverse":true,"nice":false,"zero":false},"axis":null},
"y2":{"field":"yb"}}},
{"mark":{"type":"rule","color":"#1a1a1a","strokeWidth":1.3,"strokeCap":"square"},
"encoding":{"x":{"field":"ha","type":"quantitative","axis":null},"x2":{"field":"h"},
"y":{"field":"ya","type":"quantitative","axis":null}}},
{"mark":{"type":"rule","color":"#1a1a1a","strokeWidth":1.3,"strokeCap":"square"},
"encoding":{"x":{"field":"hb","type":"quantitative","axis":null},"x2":{"field":"h"},
"y":{"field":"yb","type":"quantitative","axis":null}}}
]},
{"width":506,"height":1125,"data":{"name":"cells"},
"transform":[
{"lookup":"i","from":{"data":{"name":"genes"},"key":"i","fields":["g"]}},
{"lookup":"c","from":{"data":{"name":"cols"},"key":"c","fields":["t","r"]}}
],
"mark":{"type":"rect","stroke":"#9e9e9e","strokeWidth":1},
"encoding":{
"x":{"field":"t","type":"nominal","sort":["12 h","2 h","0 h"],"scale":{"paddingInner":0,"paddingOuter":0},
"axis":{"title":null,"domain":false,"tickBand":"extent","tickSize":45,"tickColor":"#555","tickWidth":1,"offset":9,"labelAngle":0,"labelFont":"Liberation Serif","labelFontWeight":"bold","labelFontSize":14,"labelColor":"#222","labelPadding":-27}},
"xOffset":{"field":"r","type":"nominal","scale":{"paddingInner":0,"paddingOuter":0}},
"y":{"field":"g","type":"nominal","sort":{"field":"i","op":"min","order":"ascending"},"scale":{"paddingInner":0,"paddingOuter":0},
"axis":{"orient":"right","title":null,"domain":false,"ticks":false,"labelPadding":5,"labelFontSize":9,"labelColor":"#111","labelFont":"Liberation Sans","labelLimit":0}},
"color":{"field":"v","type":"quantitative",
"scale":{"domain":[-1.88,-1.253,-0.627,0,0.627,1.253,1.88],"range":["#2166AC","#67A9CF","#D1E5F0","#F7F7F7","#FDDBC7","#EF8A62","#B2182B"],"interpolate":"rgb"},
"legend":{"title":null,"orient":"none","legendX":740,"legendY":434,"gradientLength":324,"gradientThickness":17,"values":[-1.5,-1,-0.5,0,0.5,1,1.5],"format":"~g","labelFontSize":10,"labelOffset":8,"labelColor":"#333","labelFont":"Liberation Sans","labelOverlap":false,"gradientStrokeWidth":0,"padding":0}}
}}
]
}
